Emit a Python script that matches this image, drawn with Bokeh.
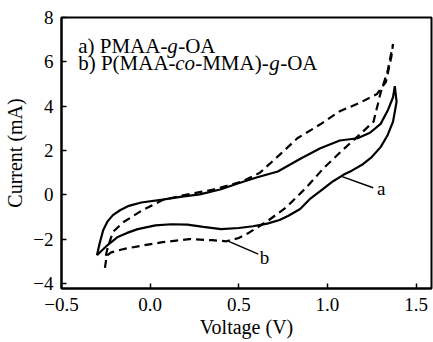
from bokeh.plotting import figure
from bokeh.models import FixedTicker, Label
from bokeh.core.properties import value
from bokeh.embed import file_html
from bokeh.resources import INLINE

# ---- data ----
x_ticks = [-0.5, 0.0, 0.5, 1.0, 1.5]
x_tick_labels = ["\u22120.5", "0.0", "0.5", "1.0", "1.5"]
y_ticks = [-4, -2, 0, 2, 4, 6, 8]
y_tick_labels = ["\u22124", "\u22122", "0", "2", "4", "6", "8"]

# curve a: PMAA-g-OA (solid), anodic branch then return branch
a_voltage = [-0.30, -0.285, -0.265, -0.24, -0.21, -0.17, -0.12, -0.05, 0.07, 0.18, 0.28, 0.40,
             0.49, 0.60, 0.72, 0.85, 0.96, 1.07, 1.17, 1.24, 1.30, 1.34, 1.37, 1.38,
             1.39, 1.37, 1.34, 1.30, 1.25, 1.20, 1.14, 1.09, 1.03, 0.976, 0.90, 0.846, 0.78,
             0.73, 0.66, 0.58, 0.50, 0.40, 0.30, 0.21, 0.12, 0.03, -0.07, -0.13, -0.186,
             -0.24, -0.30]
a_current = [-2.73, -2.2, -1.6, -1.2, -0.92, -0.7, -0.5, -0.35, -0.22, -0.08, 0.02, 0.25,
             0.5, 0.78, 1.05, 1.64, 2.1, 2.45, 2.55, 2.8, 3.2, 3.8, 4.4, 4.9,
             4.2, 3.3, 2.7, 2.15, 1.7, 1.38, 1.1, 0.9, 0.6, 0.27, -0.2, -0.64, -0.95,
             -1.14, -1.3, -1.42, -1.5, -1.55, -1.45, -1.35, -1.33, -1.38, -1.55, -1.72, -1.92,
             -2.27, -2.73]

# curve b: P(MAA-co-MMA)-g-OA (dashed)
b_voltage = [-0.255, -0.245, -0.22, -0.15, -0.05, 0.07, 0.22, 0.35, 0.43, 0.50, 0.56, 0.66,
             0.77, 0.885, 0.976, 1.09, 1.18, 1.26, 1.30, 1.34, 1.37,
             1.36, 1.33, 1.28, 1.18, 1.07, 0.96, 0.83, 0.73, 0.62, 0.52, 0.355, 0.20, 0.073,
             -0.04, -0.15, -0.21, -0.24, -0.25]
b_current = [-3.3, -2.75, -2.6, -2.45, -2.3, -2.14, -2.0, -2.05, -2.1, -1.95, -1.7, -1.2,
             -0.55, 0.36, 1.18, 2.05, 2.7, 3.3, 4.6, 5.6, 6.8,
             6.2, 5.1, 4.55, 4.14, 3.77, 3.18, 2.55, 1.8, 1.0, 0.6, 0.23, 0.0, -0.23,
             -0.68, -1.23, -1.68, -2.4, -2.75]

# leader lines to the curve tags
tag_x0 = [1.083, 0.44]
tag_y0 = [0.82, -2.09]
tag_x1 = [1.258, 0.61]
tag_y1 = [0.32, -2.68]
tag_text = ["a", "b"]
tag_x = [1.303, 0.645]
tag_y = [0.30, -2.85]

FONT = "Liberation Serif"
X0, X1 = -0.5, 1.587
Y0, Y1 = -4.23, 8.0

p = figure(width=433, height=342, output_backend="svg", toolbar_location=None,
           x_range=(X0, X1), y_range=(Y0, Y1),
           min_border_left=61, min_border_top=17, min_border_right=2, min_border_bottom=54)
p.background_fill_color = "white"
p.border_fill_color = "white"
p.grid.visible = False
p.outline_line_color = "black"
p.outline_line_width = 2

for ax in (p.xaxis[0], p.yaxis[0]):
    ax.axis_line_width = 2
    ax.major_tick_line_width = 1.5
    ax.major_tick_in = 5
    ax.major_tick_out = 0
    ax.minor_tick_in = 0
    ax.minor_tick_out = 0
    ax.major_label_text_font = FONT
    ax.major_label_text_font_size = "19px"
    ax.major_label_text_color = "black"
    ax.axis_label_text_font = FONT
    ax.axis_label_text_font_size = "20px"
    ax.axis_label_text_font_style = "normal"
    ax.axis_label_text_color = "black"

p.xaxis.ticker = FixedTicker(ticks=x_ticks)
p.xaxis.major_label_overrides = dict(zip(x_ticks, x_tick_labels))
p.yaxis.ticker = FixedTicker(ticks=y_ticks)
p.yaxis.major_label_overrides = dict(zip(y_ticks, y_tick_labels))
p.xaxis.axis_label = "Voltage (V)"
p.yaxis.axis_label = "Current (mA)"
p.xaxis.major_label_standoff = 9
p.xaxis.axis_label_standoff = 2
p.yaxis.major_label_standoff = 8
p.yaxis.axis_label_standoff = 4

p.line(a_voltage, a_current, line_color="black", line_width=2.2)
p.line(b_voltage, b_current, line_color="black", line_width=2.2, line_dash="8 5")
p.segment(tag_x0, tag_y0, tag_x1, tag_y1, line_color="black", line_width=1.5)
p.text(tag_x, tag_y, text=tag_text, text_font=value(FONT), text_font_size="19px",
       text_align="center", text_baseline="middle", text_color="black")

# legend text (pieces so that g and co are italic)
lx = -0.406
ly1 = 6.73
ly2 = 5.95
pieces = [
    ("a) PMAA-", "normal", 0, ly1),
    ("g", "italic", 89, ly1),
    ("-OA", "normal", 100, ly1),
    ("b) P(MAA-", "normal", 0, ly2),
    ("co", "italic", 97, ly2),
    ("-MMA)-", "normal", 117, ly2),
    ("g", "italic", 191, ly2),
    ("-OA", "normal", 202, ly2),
]
for txt, style, off, yy in pieces:
    p.add_layout(Label(x=lx, y=yy, x_offset=off, text=txt, text_font=FONT,
                       text_font_size="21px", text_font_style=style,
                       text_baseline="alphabetic", text_color="black"))

open("out.html", "w").write(file_html(p, INLINE))
